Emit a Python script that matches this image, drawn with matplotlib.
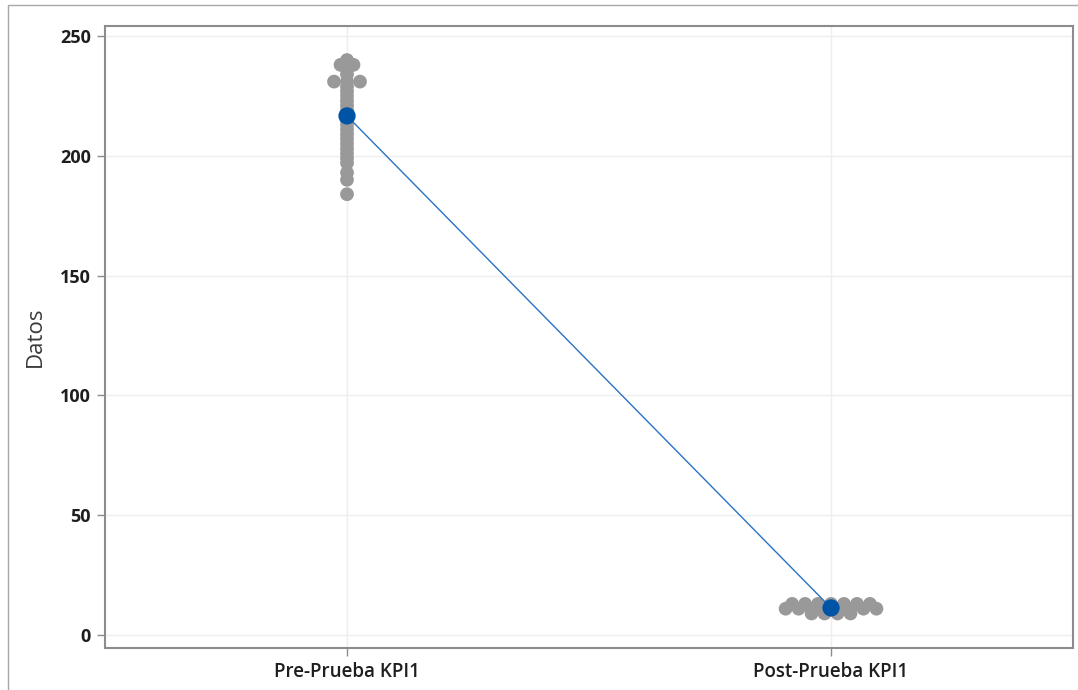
import numpy as np
import matplotlib.pyplot as plt
from matplotlib.patches import Rectangle

plt.rcParams['font.family'] = ['Open Sans', 'DejaVu Sans']

categories = ["Pre-Prueba KPI1", "Post-Prueba KPI1"]
pre_values = [240, 238, 238, 236, 234, 231, 231, 231, 229, 227, 225, 223, 221,
              219, 217, 215, 213, 211, 209, 207, 205, 203, 201, 199, 197, 193,
              190, 184]
post_values = [13, 13, 13, 13, 13, 13, 13,
               11, 11, 11, 11, 11, 11, 11, 11,
               9, 9, 9, 9]
y_ticks = [0, 50, 100, 150, 200, 250]

series = [pre_values, post_values]

fig = plt.figure(figsize=(10.78, 6.9), dpi=100)
ax = fig.add_axes([0.0974, 0.0609, 0.898, 0.9014])

# outer frame of the graph window
fig.patches.append(Rectangle((8 / 1078, -0.1), 1.2, 1 - 5 / 690 + 0.1,
                             transform=fig.transFigure, fill=False,
                             edgecolor='#a8a8a8', linewidth=1.0))

step = 0.0268  # horizontal spacing of tied symbols
gray = '#999999'
for i, vals in enumerate(series, start=1):
    vals = np.asarray(vals, dtype=float)
    xs, ys = [], []
    for v in np.unique(vals):
        n = int(np.sum(vals == v))
        offs = (np.arange(n) - (n - 1) / 2) * step
        xs.extend(i + offs)
        ys.extend([v] * n)
    ax.scatter(xs, ys, s=98, color=gray, edgecolors='none', zorder=3)

means = [np.mean(v) for v in series]
ax.plot([1, 2], means, color='#2a72c4', linewidth=1.0, zorder=4)
ax.scatter([1, 2], means, s=155, color='#0054a6', edgecolors='none', zorder=5)

ax.set_xlim(0.5, 2.5)
ax.set_ylim(-5.4, 254.2)
ax.set_xticks([1, 2])
ax.set_xticklabels(categories, fontsize=13.5, fontweight='semibold')
ax.set_yticks(y_ticks)
ax.set_yticklabels([str(t) for t in y_ticks], fontsize=13, fontweight='bold')
ax.set_ylabel("Datos", fontsize=16, color='#3a3a3a', labelpad=10)

ax.grid(True, color='#eeeeee', linewidth=1.0, zorder=0)
ax.set_axisbelow(True)
for sp in ax.spines.values():
    sp.set_color('#8c8c8c')
    sp.set_linewidth(1.5)
ax.tick_params(axis='both', colors='#8c8c8c', labelcolor='#1e1e1e',
               length=6, width=1.0, direction='out', pad=4)

fig.savefig('out.png', dpi=100)
